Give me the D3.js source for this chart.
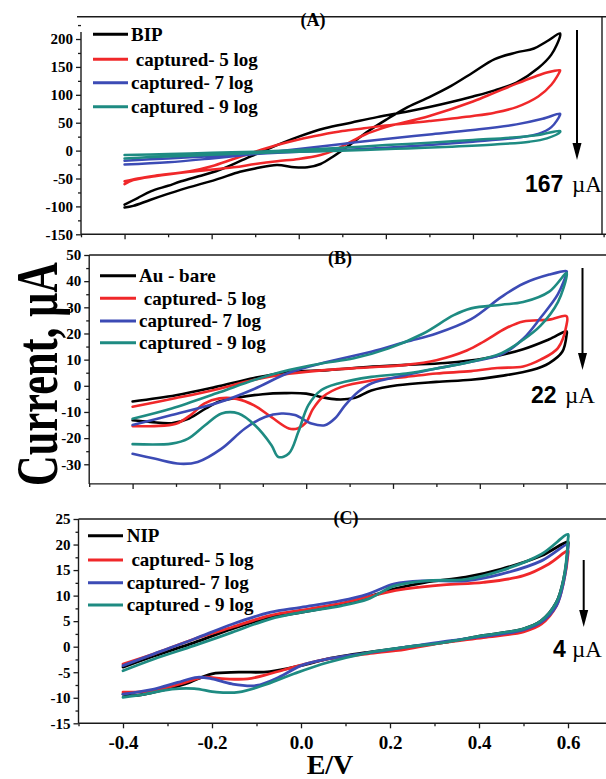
<!DOCTYPE html>
<html><head><meta charset="utf-8">
<script src="https://cdn.jsdelivr.net/npm/d3@7"></script>
<style>body{margin:0;background:#fff}</style>
</head><body>
<svg id="c" width="606" height="779"></svg>
<script>
// ---------- DATA ----------
const xTickValues = [-0.4, -0.2, 0.0, 0.2, 0.4, 0.6];
const xMinorValues = [-0.5, -0.3, -0.1, 0.1, 0.3, 0.5];
const legendA = ["BIP", " captured- 5 log", "captured- 7 log", "captured - 9 log"];
const legendB = ["Au - bare", " captured- 5 log", "captured- 7 log", "captured - 9 log"];
const legendC = ["NIP", " captured- 5 log", "captured- 7 log", "captured - 9 log"];
const yTicksA = [-150, -100, -50, 0, 50, 100, 150, 200];
const yTicksB = [-30, -20, -10, 0, 10, 20, 30, 40, 50];
const yTicksC = [-15, -10, -5, 0, 5, 10, 15, 20, 25];
const notes = ["167", "22", "4"];

// Panel A  (E / V, I / uA) : full CV loop
const A_BIP = [[-0.4,-97],[-0.37,-85],[-0.34,-73],[-0.3,-63],[-0.27,-55],[-0.23,-46],[-0.19,-37],[-0.135,-19],[-0.074,2],[0,25],[0.06,40],[0.12,50],[0.18,60],[0.25,70],[0.3,78],[0.35,87],[0.4,97],[0.45,108],[0.5,122],[0.55,148],[0.58,172],[0.6,205],
  [0.6,210],[0.57,196],[0.54,183],[0.5,176],[0.45,164],[0.4,140],[0.35,116],[0.3,96],[0.25,78],[0.2,55],[0.16,35],[0.12,12],[0.08,-10],[0.05,-24],[0.02,-30],[-0.01,-30],[-0.05,-26],[-0.1,-32],[-0.135,-38],[-0.19,-52],[-0.27,-70],[-0.34,-88],[-0.38,-99],[-0.4,-102]];
const A_5 = [[-0.4,-55],[-0.37,-50],[-0.33,-45],[-0.25,-37],[-0.2,-28],[-0.15,-15],[-0.1,-2],[-0.05,10],[0,20],[0.05,28],[0.1,35],[0.15,40],[0.2,45],[0.3,53],[0.4,62],[0.45,68],[0.5,78],[0.55,97],[0.58,118],[0.6,143],
  [0.6,144],[0.57,140],[0.54,132],[0.5,120],[0.45,104],[0.4,88],[0.3,62],[0.2,42],[0.15,28],[0.12,16],[0.08,0],[0.05,-8],[0,-15],[-0.05,-19],[-0.1,-24],[-0.15,-30],[-0.25,-38],[-0.33,-46],[-0.38,-53],[-0.4,-60]];
const A_7 = [[-0.4,-18],[-0.3,-14],[-0.2,-10],[-0.1,-6],[0,-2],[0.1,1],[0.2,5],[0.3,10],[0.4,16],[0.5,23],[0.55,30],[0.58,42],[0.6,64],
  [0.6,66],[0.56,57],[0.5,47],[0.4,37],[0.3,29],[0.2,21],[0.1,12],[0,3],[-0.1,-6],[-0.2,-14],[-0.3,-21],[-0.4,-25]];
const A_9 = [[-0.4,-8],[-0.3,-6],[-0.2,-4],[-0.1,-2],[0,1],[0.1,5],[0.2,10],[0.3,14],[0.4,19],[0.5,24],[0.55,28],[0.6,35],
  [0.6,33],[0.57,22],[0.53,16],[0.45,11],[0.35,7],[0.25,4],[0.15,1],[0.05,-1],[-0.05,-3],[-0.15,-6],[-0.25,-9],[-0.35,-12],[-0.4,-14]];

// Panel B
const B_bare = [[-0.4,-6],[-0.3,-3.6],[-0.21,-0.5],[-0.12,3],[-0.04,5.3],[0.05,6],[0.14,7.2],[0.23,8],[0.32,8.7],[0.41,10.4],[0.5,14],[0.56,17.8],[0.6,20.8],
  [0.6,19.5],[0.59,13],[0.56,8.7],[0.52,6],[0.45,3.8],[0.38,2.3],[0.3,1.5],[0.21,0.2],[0.15,-1.8],[0.11,-4.7],[0.07,-5.2],[0.035,-4.3],[0,-3],[-0.05,-2.8],[-0.1,-3.2],[-0.16,-4.6],[-0.2,-6],[-0.23,-8.5],[-0.27,-12.5],[-0.31,-14.3],[-0.36,-13.8],[-0.4,-13.2]];
const B_5 = [[-0.4,-8],[-0.3,-4.7],[-0.21,-1.5],[-0.12,2.3],[-0.04,4.6],[0.05,6.1],[0.14,7],[0.23,8],[0.3,9.8],[0.37,13.5],[0.41,17],[0.46,22],[0.5,24.6],[0.56,25.3],[0.6,26.6],
  [0.6,23.4],[0.58,14.4],[0.54,10],[0.5,7.4],[0.44,6.8],[0.38,5.6],[0.3,4.7],[0.23,3.4],[0.15,2],[0.08,-0.5],[0.04,-4],[0.015,-9],[0,-14],[-0.02,-16.3],[-0.04,-16.3],[-0.08,-12],[-0.12,-7.5],[-0.16,-5],[-0.2,-4.8],[-0.235,-6.8],[-0.265,-11],[-0.3,-14.5],[-0.35,-15.4],[-0.4,-15.4]];
const B_7 = [[-0.4,-15],[-0.31,-11.2],[-0.2,-6.3],[-0.12,-1.2],[-0.04,5],[0.04,8.8],[0.15,13],[0.23,16.8],[0.3,20],[0.38,25.5],[0.45,34],[0.5,39],[0.56,42.5],[0.6,43.8],
  [0.6,43.2],[0.58,35],[0.54,26],[0.5,18],[0.45,12],[0.38,9.2],[0.3,6.6],[0.23,4.1],[0.15,0.9],[0.12,-2.3],[0.09,-7.4],[0.066,-12.5],[0.043,-15.1],[0.012,-14.4],[-0.026,-11.2],[-0.057,-10.6],[-0.095,-11.9],[-0.141,-16.3],[-0.195,-24],[-0.25,-29.1],[-0.29,-29.8],[-0.35,-27.8],[-0.4,-26]];
const B_9 = [[-0.4,-12.6],[-0.31,-8.7],[-0.2,-2.5],[-0.12,2.2],[-0.04,6],[0.035,8.5],[0.11,10.5],[0.19,14.3],[0.27,20],[0.34,27],[0.38,29.6],[0.45,31],[0.5,32],[0.56,36],[0.6,43.2],
  [0.6,41.9],[0.58,32],[0.54,23],[0.5,17.6],[0.45,12.5],[0.38,9.2],[0.3,6.6],[0.23,4.7],[0.15,3.4],[0.074,0.9],[0.035,-1.6],[0.005,-7.4],[-0.018,-17.6],[-0.04,-25.9],[-0.064,-27.2],[-0.08,-22.7],[-0.118,-15.1],[-0.156,-10.6],[-0.195,-10.6],[-0.233,-15.1],[-0.272,-20.2],[-0.31,-22.1],[-0.4,-22.3]];

// Panel C
const C_NIP = [[-0.4,-4],[-0.33,-1.8],[-0.24,0.8],[-0.155,3.5],[-0.07,5.7],[0,6.7],[0.09,8.3],[0.15,9.7],[0.21,11.3],[0.28,12.6],[0.37,13.6],[0.45,15.2],[0.54,17.8],[0.6,20.5],
  [0.6,19.8],[0.59,13.2],[0.574,8.7],[0.54,5.1],[0.5,3.5],[0.41,2.2],[0.32,0.8],[0.235,-0.1],[0.15,-1.1],[0.06,-2.4],[0,-3.7],[-0.07,-4.9],[-0.14,-5],[-0.2,-5.3],[-0.26,-7.3],[-0.33,-8.9],[-0.38,-9.6],[-0.4,-9.3]];
const C_5 = [[-0.4,-3.4],[-0.33,-1.4],[-0.24,1.5],[-0.155,3.8],[-0.07,6.1],[0.02,7.4],[0.1,8.7],[0.19,10.6],[0.235,11.3],[0.32,12.1],[0.41,12.6],[0.5,13.9],[0.557,16.2],[0.6,18.8],
  [0.6,18.1],[0.59,12.6],[0.574,8],[0.54,4.4],[0.5,2.9],[0.41,1.8],[0.32,0.8],[0.235,-0.5],[0.15,-1.4],[0.06,-2.4],[0,-3.6],[-0.07,-5.3],[-0.12,-6.3],[-0.17,-6.3],[-0.22,-6],[-0.26,-7],[-0.33,-8.6],[-0.4,-8.9]];
const C_7 = [[-0.4,-3.7],[-0.33,-1.4],[-0.24,1.5],[-0.155,4.4],[-0.07,6.7],[0,7.7],[0.09,9],[0.15,10.3],[0.21,12.3],[0.28,12.9],[0.37,12.9],[0.45,14.2],[0.54,16.8],[0.6,20.1],
  [0.6,19.5],[0.59,12.6],[0.574,8],[0.54,4.8],[0.5,3.3],[0.41,2],[0.32,1],[0.235,-0.1],[0.15,-1.2],[0.06,-2.4],[0,-3.7],[-0.05,-6],[-0.1,-7.6],[-0.155,-7.3],[-0.2,-6.3],[-0.233,-6],[-0.277,-7],[-0.33,-8.3],[-0.4,-9.3]];
const C_9 = [[-0.4,-4.7],[-0.33,-2.4],[-0.24,0.2],[-0.155,2.8],[-0.07,5.4],[0,6.7],[0.09,8],[0.15,9.3],[0.21,11.9],[0.28,12.9],[0.37,13.2],[0.45,14.9],[0.54,18.1],[0.6,22],
  [0.6,21],[0.59,13.2],[0.574,8.7],[0.54,5.1],[0.5,3.5],[0.41,2.2],[0.32,0.8],[0.235,-0.1],[0.15,-1.2],[0.06,-3.1],[-0.016,-5.3],[-0.086,-7.6],[-0.14,-8.9],[-0.19,-8.9],[-0.24,-8.2],[-0.29,-8.3],[-0.35,-9.3],[-0.4,-9.9]];

// ---------- LAYOUT ----------
const colors = ["#000000", "#f0282a", "#3c4bb5", "#1e8b82"];
const serif = "'Liberation Serif','Times New Roman',serif";
const sans = "'Liberation Sans',Arial,sans-serif";
const svg = d3.select("#c");

const panels = [
  {tag:"(A)", tagX:313, tagY:26, names:legendA, curves:[A_BIP,A_5,A_7,A_9],
   xr:[81,603.6], yr:[234.3,16.7], yd:[-150,240], yMaj:yTicksA, yStep:50, leftTop:32, topX0:77, rightX:602,
   leg:{x0:93,x1:128,tx:131,ys:[34.3,59.3,82.7,106.7]}, arrow:{x:577,y0:30,y1:160},
   note:{nx:525, ux:572, by:192}, sw:2.5},
  {tag:"(B)", tagX:340, tagY:264, names:legendB, curves:[B_bare,B_5,B_7,B_9],
   xr:[89.2,610], yr:[483.9,255], yd:[-37.5,50], yMaj:yTicksB, yStep:10, leftTop:255, topX0:89.2, rightX:null,
   leg:{x0:100,x1:136,tx:139,ys:[275.7,298.3,321,342.7]}, arrow:{x:582.5,y0:268,y1:370},
   note:{nx:531, ux:565, by:403}, sw:2.6},
  {tag:"(C)", tagX:346, tagY:524, names:legendC, curves:[C_NIP,C_5,C_7,C_9],
   xr:[78.5,612.5], yr:[723.3,519], yd:[-15,25], yMaj:yTicksC, yStep:5, leftTop:519, topX0:78.5, rightX:null,
   leg:{x0:88,x1:123,tx:126.7,ys:[535.7,560,582.7,605]}, arrow:{x:583.7,y0:560,y1:627},
   note:{nx:553, ux:572, by:657}, sw:2.8, xlabels:true}
];

panels.forEach((p, pi) => {
  const x = d3.scaleLinear().domain([-0.5, 0.7]).range(p.xr);
  const y = d3.scaleLinear().domain(p.yd).range(p.yr);
  const g = svg.append("g");
  const axisColor = "#1a1a1a";

  // frame lines
  const frame = [
    [p.xr[0], p.leftTop, p.xr[0], p.yr[0]],
    [p.topX0, p.yr[1], 606, p.yr[1]],
    [p.xr[0], p.yr[0], 606, p.yr[0]]
  ];
  if (p.rightX) frame.push([p.rightX, p.yr[1], p.rightX, p.yr[0]]);
  g.selectAll("line.frame").data(frame).join("line")
    .attr("x1", d => d[0]).attr("y1", d => d[1]).attr("x2", d => d[2]).attr("y2", d => d[3])
    .attr("stroke", axisColor).attr("stroke-width", 1.4);

  // y axis
  const yMin = p.yMaj.slice(0, -1).map(v => v + p.yStep / 2).filter(v => v < p.yd[1]);
  if (pi === 0) yMin.push(225);
  const ya = g.append("g").attr("transform", `translate(${p.xr[0]},0)`)
    .call(d3.axisLeft(y).tickValues(p.yMaj).tickSize(5).tickPadding(3).tickFormat(d => String(d)));
  const ym = g.append("g").attr("transform", `translate(${p.xr[0]},0)`)
    .call(d3.axisLeft(y).tickValues(yMin).tickSize(3).tickFormat(""));
  // x axis (bottom)
  const xa = g.append("g").attr("transform", `translate(0,${p.yr[0]})`)
    .call(d3.axisBottom(x).tickValues(xTickValues).tickSize(5).tickPadding(7)
      .tickFormat(p.xlabels ? (d => d.toFixed(1)) : ""));
  const xm = g.append("g").attr("transform", `translate(0,${p.yr[0]})`)
    .call(d3.axisBottom(x).tickValues(xMinorValues.concat([0.7])).tickSize(3).tickFormat(""));
  [ya, ym, xa, xm].forEach(a => {
    a.select(".domain").remove();
    a.selectAll(".tick line").attr("stroke", axisColor).attr("stroke-width", 1.3);
  });
  ya.selectAll("text").attr("font-family", serif).attr("font-weight", "bold").attr("font-size", 15).attr("fill", "#000");
  xa.selectAll("text").attr("font-family", serif).attr("font-weight", "bold").attr("font-size", 19).attr("fill", "#000");

  // curves
  const line = d3.line().x(d => x(d[0])).y(d => y(d[1])).curve(d3.curveCatmullRom.alpha(0.5));
  g.append("g").selectAll("path").data(p.curves).join("path")
    .attr("d", line).attr("fill", "none")
    .attr("stroke", (d, i) => colors[i]).attr("stroke-width", p.sw)
    .attr("stroke-linejoin", "round").attr("stroke-linecap", "round");

  // panel tag
  g.append("text").attr("x", p.tagX).attr("y", p.tagY).attr("text-anchor", "middle")
    .attr("font-family", serif).attr("font-weight", "bold").attr("font-size", 18).text(p.tag);

  // legend
  const lg = g.append("g");
  p.names.forEach((n, i) => {
    lg.append("line").attr("x1", p.leg.x0).attr("x2", p.leg.x1)
      .attr("y1", p.leg.ys[i]).attr("y2", p.leg.ys[i])
      .attr("stroke", colors[i]).attr("stroke-width", 3);
    lg.append("text").attr("x", p.leg.tx).attr("y", p.leg.ys[i] + 6.3)
      .attr("font-family", serif).attr("font-weight", "bold").attr("font-size", 19)
      .style("white-space", "pre").text(n);
  });

  // arrow
  g.append("line").attr("x1", p.arrow.x).attr("x2", p.arrow.x)
    .attr("y1", p.arrow.y0).attr("y2", p.arrow.y1 - 12)
    .attr("stroke", "#000").attr("stroke-width", 2);
  g.append("path")
    .attr("d", `M${p.arrow.x - 4.5},${p.arrow.y1 - 17}L${p.arrow.x + 4.5},${p.arrow.y1 - 17}L${p.arrow.x},${p.arrow.y1}Z`)
    .attr("fill", "#000");

  // note
  g.append("text").attr("x", p.note.nx).attr("y", p.note.by)
    .attr("font-family", sans).attr("font-weight", "bold").attr("font-size", 23).text(notes[pi]);
  g.append("text").attr("x", p.note.ux).attr("y", p.note.by)
    .attr("font-family", serif).attr("font-size", 23).text("\u00b5A");
});

// axis titles
svg.append("text").attr("transform", "translate(57,374) rotate(-90)")
  .attr("text-anchor", "middle").attr("font-family", serif).attr("font-weight", "bold")
  .attr("font-size", 60).attr("textLength", 224).attr("lengthAdjust", "spacingAndGlyphs")
  .text("Current, \u00b5A");
svg.append("text").attr("x", 330).attr("y", 774).attr("text-anchor", "middle")
  .attr("font-family", serif).attr("font-weight", "bold").attr("font-size", 28).text("E/V");
</script>
</body></html>
